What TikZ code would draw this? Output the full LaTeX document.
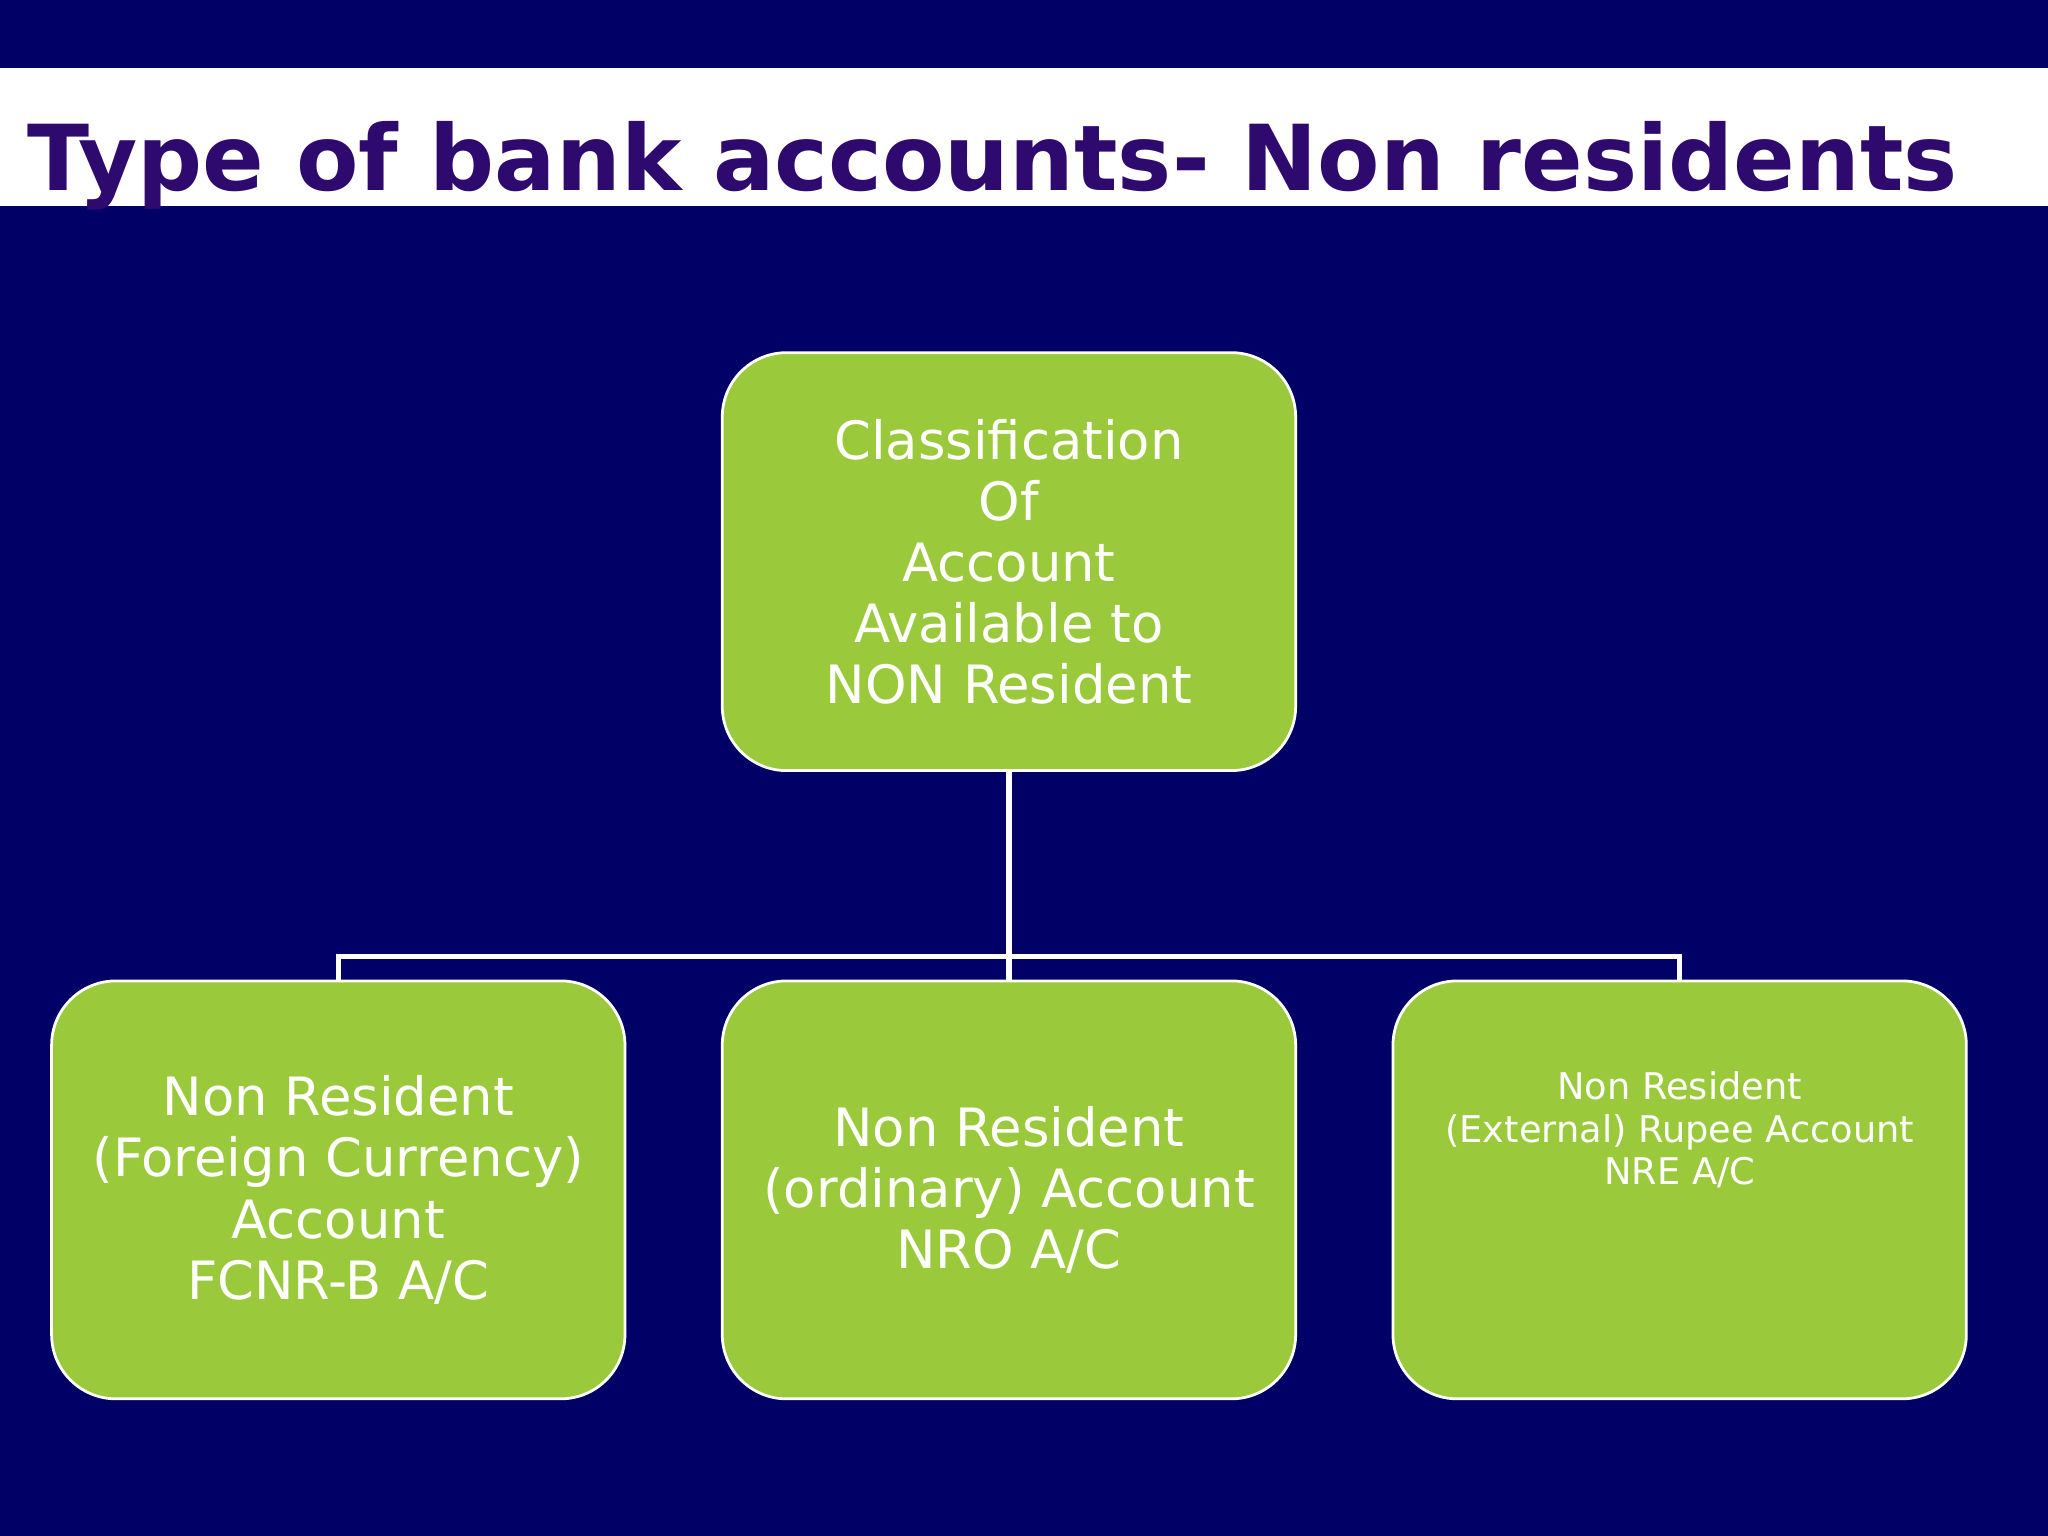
\documentclass[tikz,border=0pt]{standalone}
\usepackage{fontspec}
\setmainfont{DejaVu Sans}
\usepackage{graphicx}
\definecolor{navy}{HTML}{000066}
\definecolor{ttl}{HTML}{2E0A6E}
\definecolor{grn}{HTML}{9ACA3C}
\begin{document}
\begin{tikzpicture}[x=0.01cm,y=-0.01cm,
  box/.style={draw=white,line width=0.6pt,fill=grn,rounded corners=14pt,text=white,align=center,minimum width=439*0.01cm,minimum height=320*0.01cm,font=\fontsize{11.5}{13.3}\selectfont},
  con/.style={draw=white,line width=1.1pt}]
\useasboundingbox (0,0) rectangle (1568,1176);
\fill[navy] (0,0) rectangle (1568,1176);
\fill[white] (0,52) rectangle (1568,158);
\node[anchor=base west,inner sep=0,text=ttl,font=\bfseries] (title) at (20,146) {\resizebox{1478\dimexpr0.01cm\relax}{!}{Type of bank accounts- Non residents}};
\node[box] (top) at (772.5,430) {Classification\\ Of\\ Account\\ Available to\\ NON Resident};
\node[box] (a) at (259,911) {Non Resident\\ (Foreign Currency)\\ Account\\ FCNR-B A/C};
\node[box] (b) at (772.5,911) {Non Resident\\ (ordinary) Account\\ NRO A/C};
\node[box,font=\fontsize{8}{9.3}\selectfont] (c) at (1286,911) {Non Resident\\ (External) Rupee Account\\ NRE A/C\\[2.2em]};
\coordinate (j) at (772.5,732);
\draw[con] (top.south) -- (b.north);
\draw[con] (a.north) -- (a.north |- j) -- (c.north |- j) -- (c.north);
\end{tikzpicture}
\end{document}
